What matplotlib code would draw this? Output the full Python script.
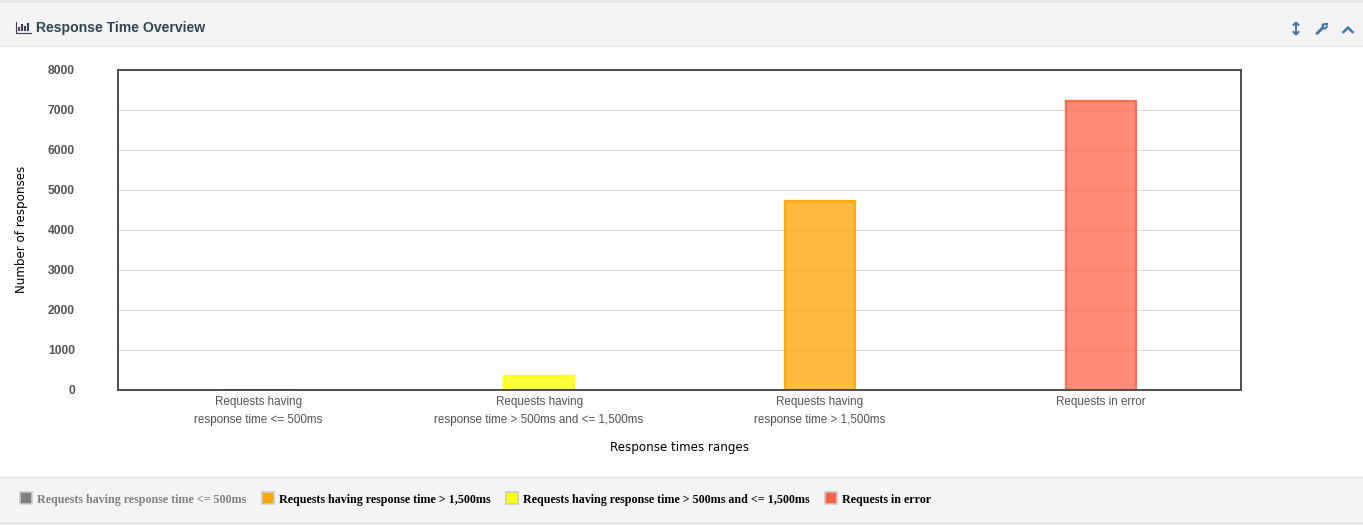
import numpy as np
import matplotlib
matplotlib.use("Agg")
import matplotlib.pyplot as plt
from matplotlib.patches import Rectangle

# data
categories = ["Requests having\nresponse time <= 500ms",
              "Requests having\nresponse time > 500ms and <= 1,500ms",
              "Requests having\nresponse time > 1,500ms",
              "Requests in error"]
responses = [0, 330, 4730, 7230]
bar_colors = ["#808080", "#FFFF00", "#FFA500", "#FF6347"]
y_ticks = [0, 1000, 2000, 3000, 4000, 5000, 6000, 7000, 8000]
legend_labels = ["Requests having response time <= 500ms",
                 "Requests having response time > 1,500ms",
                 "Requests having response time > 500ms and <= 1,500ms",
                 "Requests in error"]
legend_colors = ["#808080", "#FFA500", "#FFFF00", "#FF6347"]
legend_text_colors = ["#808080", "black", "black", "black"]
legend_x = [20, 262, 506, 825]

W, H = 1363, 525
fig = plt.figure(figsize=(W / 100, H / 100), dpi=100)

# page furniture, in pixels
bg = fig.add_axes([0, 0, 1, 1])
bg.set_xlim(0, W)
bg.set_ylim(H, 0)
bg.axis("off")
bg.add_patch(Rectangle((0, 0), W, 3, color="#e6e8ea", lw=0))
bg.add_patch(Rectangle((0, 3), W, 43, color="#f4f4f4", lw=0))
bg.plot([0, W], [46, 46], color="#e8e8e8", lw=0.8)
bg.add_patch(Rectangle((0, 477), W, 46, color="#f4f4f4", lw=0))
bg.plot([0, W], [477, 477], color="#dddddd", lw=0.8)
bg.plot([0, W], [523, 523], color="#dddddd", lw=0.8)

# title and its little icon
bg.plot([15.5, 15.5, 30.5], [21.5, 32.5, 32.5], color="#4a3550", lw=0.8)
for x, top in zip([18.5, 21.5, 24.5, 27.5], [27, 24, 26, 22.5]):
    bg.plot([x, x], [top, 31], color="#3a3f55", lw=1.5, solid_capstyle="butt")
bg.text(36, 28, "Response Time Overview", fontsize=10.1, fontweight="bold",
        family="Liberation Sans", color="#2f4550", va="center")

# header buttons
icon = "#3f74a8"
bg.plot([1296, 1296], [23, 34], color=icon, lw=1.4, solid_capstyle="butt")
bg.plot([1293.5, 1296, 1298.5], [25, 22.5, 25], color=icon, lw=1.4)
bg.plot([1293.5, 1296, 1298.5], [32, 34.5, 32], color=icon, lw=1.4)
bg.plot([1317, 1323], [33.5, 27.5], color=icon, lw=2.0, solid_capstyle="round")
bg.plot([1322.5, 1323, 1326, 1327], [28, 24.5, 24, 24], color=icon, lw=1.6)
bg.plot([1322.5, 1325.5, 1327], [28.5, 28.5, 26.5], color=icon, lw=1.3)
bg.plot([1343.5, 1348, 1352.5], [32, 27.5, 32], color=icon, lw=1.8)

# chart
ax = fig.add_axes([118 / W, 1 - 389.5 / H, (1241 - 118) / W, (389.5 - 70) / H])
x = np.arange(len(categories))
ax.bar(x, responses, width=0.25, color=bar_colors, alpha=0.75, zorder=3)
ax.bar(x, responses, width=0.25, facecolor="none", edgecolor=bar_colors,
       linewidth=1.6, alpha=0.9, zorder=3)
ax.set_xlim(-0.5, 3.5)
ax.set_ylim(0, 8000)
ax.set_yticks(y_ticks)
ax.set_xticks(x)
ax.set_xticklabels(categories, fontsize=8.4, family="Liberation Sans", color="#545454",
                   linespacing=1.62)
ax.tick_params(axis="both", length=0)
ax.tick_params(axis="x", pad=5)
ax.tick_params(axis="y", pad=31)
for lab in ax.get_yticklabels():
    lab.set_fontsize(8.7)
    lab.set_fontweight("bold")
    lab.set_family("Liberation Sans")
    lab.set_color("#545454")
ax.grid(axis="y", color="#d8d8d8", lw=0.75, zorder=0)
for s in ax.spines.values():
    s.set_color("#4d4d4d")
    s.set_linewidth(1.4)
    s.set_zorder(4)

bg.text(679.5, 447, "Response times ranges", fontsize=8.6, color="black",
        ha="center", va="center")
bg.text(22, 229.5, "Number of responses", fontsize=8.6, color="black",
        rotation=90, ha="center", va="center")

# legend
for lx, lab, col, tcol in zip(legend_x, legend_labels, legend_colors, legend_text_colors):
    bg.add_patch(Rectangle((lx, 492), 12, 12, facecolor=col, edgecolor="#cccccc", lw=1.2))
    bg.text(lx + 17, 499.5, lab, fontsize=8.68, fontweight="bold", family="Liberation Serif",
            color=tcol, va="center")

fig.savefig("out.png", dpi=100)
